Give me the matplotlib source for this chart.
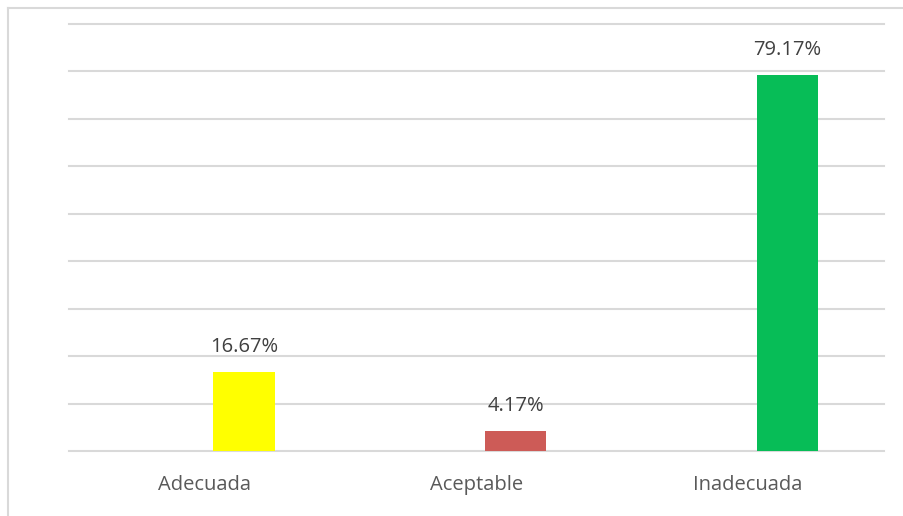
import matplotlib.pyplot as plt
from matplotlib.lines import Line2D

categories = ['Adecuada', 'Aceptable', 'Inadecuada']
values = [16.67, 4.17, 79.17]
colors = ['#FFFF00', '#CD5B57', '#07BD57']

fig = plt.figure(figsize=(9.04, 5.16), dpi=100)
ax = fig.add_axes([69/904, 65/516, 815/904, 427/516])

x = list(range(len(categories)))
# bars sit a bit right of the category centre (excel series offset)
bx = [i + 0.144 for i in x]
bars = ax.bar(bx, values, width=0.225, color=colors, zorder=3)

for b, v in zip(bars, values):
    ax.annotate('%.2f%%' % v, (b.get_x() + b.get_width()/2, v),
                xytext=(0, 11), textcoords='offset points',
                ha='center', va='bottom', fontsize=14.5, color='#404040',
                family='Open Sans')

ax.set_xlim(-0.5, 2.5)
ax.set_ylim(0, 90)
ax.set_yticks(range(0, 91, 10))
ax.yaxis.grid(True, color='#d9d9d9', lw=1.5, zorder=0)
for gl in ax.get_ygridlines():
    gl.set_clip_on(False)
ax.set_yticklabels([])
ax.tick_params(axis='both', length=0)
ax.set_xticks(x)
ax.set_xticklabels(categories, fontsize=14.5, color='#595959', family='Open Sans')
ax.tick_params(axis='x', pad=17)
for s in ax.spines.values():
    s.set_visible(False)

# chart area border (top and left edge visible)
fig.add_artist(Line2D([8/904, 1], [1 - 8/516, 1 - 8/516], color='#d9d9d9', lw=1.5))
fig.add_artist(Line2D([8/904, 8/904], [0, 1 - 8/516], color='#d9d9d9', lw=1.5))

fig.savefig('out.png', dpi=100)
